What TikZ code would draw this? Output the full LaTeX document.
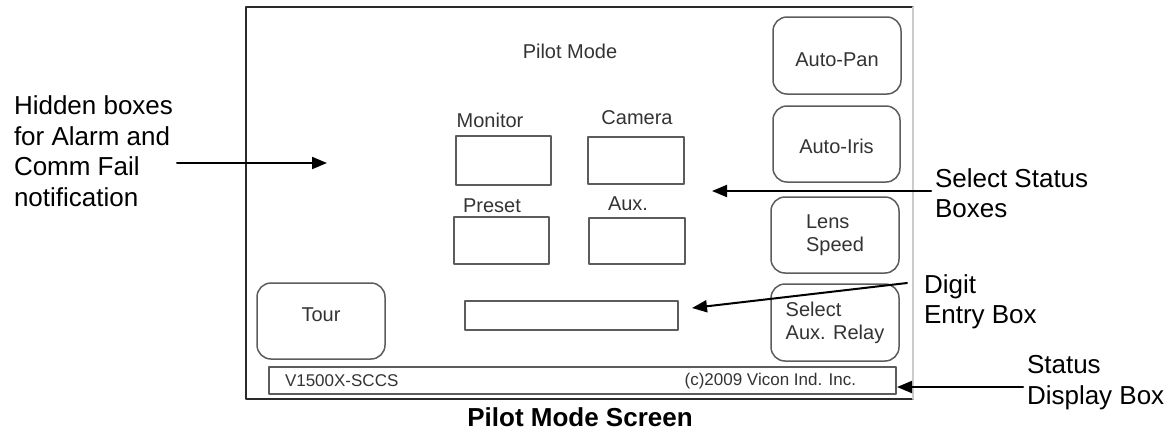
\documentclass[tikz,border=0pt]{standalone}
\usepackage{fontspec}
\setmainfont{Liberation Sans}
\usetikzlibrary{arrows.meta}
\definecolor{screenframe}{HTML}{2a2a2a}
\definecolor{screenrim}{HTML}{cccccc}
\definecolor{panel}{HTML}{5c5c5c}
\definecolor{screentext}{HTML}{333333}

\begin{document}
\begin{tikzpicture}[
  x=0.5pt, y=-0.5pt,
  line cap=round, line join=round,
  every node/.style={inner sep=0pt, outer sep=0pt},
  button/.style={draw=panel, line width=0.75pt, rounded corners=7pt, text=screentext, align=left,
    font=\fontsize{10}{11.5}\selectfont},
  statbox/.style={draw=panel, line width=0.8pt},
  screenlabel/.style={text=screentext, font=\fontsize{10}{12}\selectfont},
  statusline/.style={text=screentext, font=\fontsize{8.5}{10}\selectfont},
  note/.style={font=\fontsize{13}{15.25}\selectfont, align=left, anchor=west, outer sep=2pt},
  pointer/.style={line width=1pt, -{Triangle[length=7.5pt, width=6pt]}},
]
\useasboundingbox (0,0) rectangle (1170,430);
\draw[draw=screenframe, line width=0.9pt] (913,7) -- (246,7) -- (246,399) -- (913,399);
\draw[draw=screenrim, line width=0.9pt] (913,7) -- (913,399);
\node[screenlabel] (mode) at (570,51) {Pilot Mode};
\node[button, minimum width=64pt, minimum height=38.5pt, text height=11.5pt] (autopan) at (837,55.5) {Auto-Pan};
\node[button, minimum width=63.5pt, minimum height=38pt, text height=9.2pt] (autoiris) at (836.5,144) {Auto-Iris};
\node[button, minimum width=64pt, minimum height=38pt] (lens) at (835,235) {Lens\\Speed};
\node[button, minimum width=64pt, minimum height=38pt, text depth=6pt] (tour) at (321,321) {Tour};
\node[button, minimum width=64pt, minimum height=38.5pt] (relay) at (835,322.5) {Select\\Aux. Relay};
\node[screenlabel] (monitorlabel) at (490,120) {Monitor};
\node[screenlabel] (cameralabel) at (637,118) {Camera};
\node[screenlabel] (presetlabel) at (492,206) {Preset};
\node[screenlabel] (auxlabel) at (628,204) {Aux.};
\node[statbox, minimum width=47.5pt, minimum height=24.5pt] (monitor) at (503.5,160.5) {};
\node[statbox, minimum width=48pt, minimum height=23.5pt] (camera) at (636,160.5) {};
\node[statbox, minimum width=47.5pt, minimum height=23.5pt] (preset) at (501.5,240.5) {};
\node[statbox, minimum width=48pt, minimum height=23pt] (aux) at (637,241) {};
\node[statbox, minimum width=106.5pt, minimum height=14.5pt] (digit) at (571.5,315.5) {};
\node[statbox, minimum width=313.5pt, minimum height=13.5pt] (status) at (582.5,380.5) {};
\node[statusline, anchor=west] (model) at (285,381) {V1500X-SCCS};
\node[statusline, anchor=east] (copyright) at (856,381) {(c)2009 Vicon Ind. Inc.};
\node[font=\fontsize{13}{15}\selectfont\bfseries] (title) at (580,417) {Pilot Mode Screen};
\node[note] (hidden) at (10,151) {Hidden boxes\\for Alarm and\\Comm Fail\\notification};
\node[note] (selnote) at (931,193) {Select Status\\Boxes};
\node[note] (digitnote) at (920,302) {Digit\\Entry Box};
\node[note] (statnote) at (1023,382.5) {Status\\Display Box};
\coordinate (hiddentip) at (327,163);
\coordinate (seltip) at (712,191);
\coordinate (digittail) at (907,283);
\coordinate (digittip) at (692,308);
\coordinate (stattip) at (897,387);
\draw[pointer] (hidden.east |- hiddentip) -- (hiddentip);
\draw[pointer] (selnote.west |- seltip) -- (seltip);
\draw[pointer] (digittail) -- (digittip);
\draw[pointer] (statnote.west |- stattip) -- (stattip);
\end{tikzpicture}
\end{document}
